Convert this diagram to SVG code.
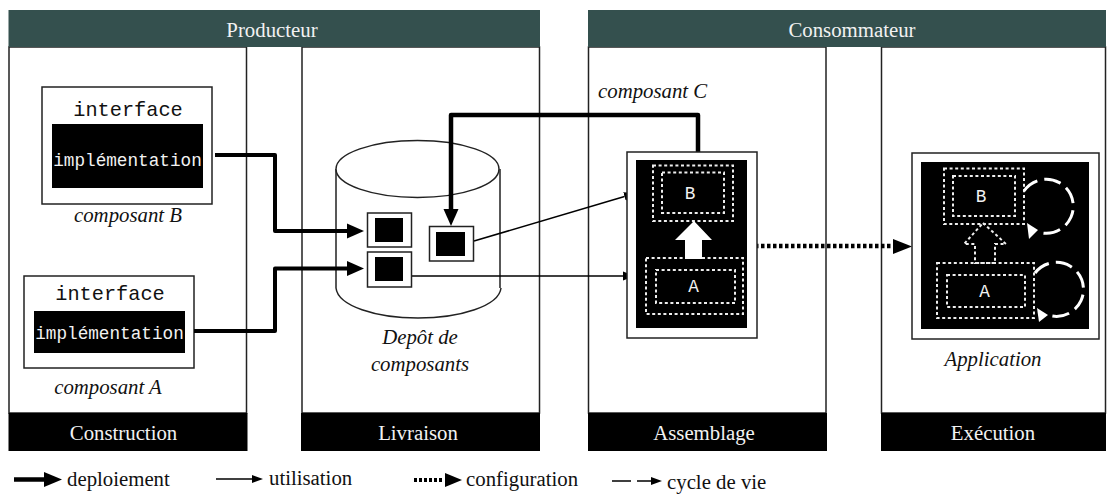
<svg xmlns="http://www.w3.org/2000/svg" width="1115" height="494" viewBox="0 0 1115 494">
<style>
text{font-family:"Liberation Serif","Times New Roman",serif;font-size:20.8px;fill:#111}
.w{fill:#f2f2f2}
.m{font-family:"Liberation Mono","Courier New",monospace}
.mi{font-size:20.300px}
.ms{font-size:17.700px}
.i{font-style:italic}
.c{text-anchor:middle}
.col{fill:#fff;stroke:#222;stroke-width:1.5}
.k{fill:#000}
.box{fill:#fff;stroke:#222;stroke-width:1.5}
.thick{fill:none;stroke:#000;stroke-width:4.5;stroke-linejoin:round}
.thin{fill:none;stroke:#000;stroke-width:1.5}
.dash{fill:none;stroke:#eee;stroke-width:2;stroke-dasharray:3 2.6}
.life{fill:none;stroke:#fff;stroke-width:3;stroke-dasharray:17 7}
</style>
<defs>
<marker id="hT" markerUnits="userSpaceOnUse" markerWidth="18" markerHeight="16" refX="0" refY="8" orient="auto"><path d="M0 0.500L17 8L0 15.500Z"/></marker>
<marker id="ht" markerUnits="userSpaceOnUse" markerWidth="12" markerHeight="10" refX="0" refY="5" orient="auto"><path d="M0 0.500L12 5L0 9.500Z"/></marker>
</defs>
<g id="columns">
<g id="col-construction"><rect class="col" x="9" y="47" width="237.500" height="366"/><rect class="k" x="8.500" y="413" width="239" height="38"/><text class="w c" x="123.500" y="440">Construction</text></g>
<g id="col-livraison"><rect class="col" x="302" y="47" width="237.500" height="366"/><rect class="k" x="301" y="413" width="239" height="38"/><text class="w c" x="418" y="440">Livraison</text></g>
<g id="col-assemblage"><rect class="col" x="588.500" y="47" width="237.500" height="366"/><rect class="k" x="588" y="413" width="239" height="38"/><text class="w c" x="704" y="440">Assemblage</text></g>
<g id="col-execution"><rect class="col" x="881.500" y="47" width="224" height="366"/><rect class="k" x="881" y="413" width="225" height="38"/><text class="w c" x="993" y="440">Exécution</text></g>
</g>
<g id="header-producteur"><rect fill="#34504e" x="8.500" y="10" width="531.500" height="37"/><text class="w c" x="272" y="37">Producteur</text></g>
<g id="header-consommateur"><rect fill="#34504e" x="588" y="10" width="518" height="37"/><text class="w c" x="852" y="37">Consommateur</text></g>
<g id="composant-b"><rect class="box" x="42" y="87" width="170" height="117"/><rect class="k" x="52" y="124" width="151" height="64"/><text class="m mi c" x="128" y="116">interface</text><text class="m ms w c" x="127.500" y="166">implémentation</text><text class="i c" x="128" y="222">composant B</text></g>
<g id="composant-a"><rect class="box" x="24" y="276" width="170" height="92"/><rect class="k" x="34" y="311" width="151" height="42"/><text class="m mi c" x="110" y="300">interface</text><text class="m ms w c" x="109.500" y="339">implémentation</text><text class="i c" x="108" y="394">composant A</text></g>
<g id="depot">
<path d="M336 169V288C338 306 376 318 418 318C460 318 499 306 501 288M500 169V288" fill="#fff" stroke="#222" stroke-width="1.500"/>
<ellipse cx="417.500" cy="169" rx="81.500" ry="28.500" fill="#fff" stroke="#222" stroke-width="1.500"/>
<text class="i c" x="420" y="344">Depôt de</text><text class="i c" x="420" y="371">composants</text>
</g>
<g id="connectors">
<path class="thick" style="stroke-width:4" d="M215 155H275V231H347" marker-end="url(#hT)"/>
<path class="thick" style="stroke-width:4" d="M194 331H275V268.500H347" marker-end="url(#hT)"/>
<path class="thick" d="M698 152V115H451V209" marker-end="url(#hT)"/>
<path class="thin" d="M474 241L624.500 196.500" marker-end="url(#ht)"/>
<path class="thin" d="M412 276H623" marker-end="url(#ht)"/>
<path d="M755 246H894" fill="none" stroke="#000" stroke-width="4.500" stroke-dasharray="3.500 2.500"/>
<path d="M893 239L912 246.500L893 254Z"/>
</g>
<g id="depot-c1"><rect class="box" x="367.500" y="213" width="44" height="34"/><rect class="k" x="375" y="218" width="28" height="24"/></g>
<g id="depot-c2"><rect class="box" x="367.500" y="252" width="44" height="35"/><rect class="k" x="375" y="257" width="28" height="24"/></g>
<g id="depot-c3"><rect class="box" x="429.500" y="226.500" width="44" height="34.500"/><rect class="k" x="436" y="232" width="29" height="24"/></g>
<g id="assemblage"><rect class="box" x="627" y="152" width="130" height="186"/><rect class="k" x="636" y="160" width="111" height="168"/>
<rect class="dash" x="653" y="165.500" width="80" height="55.500"/><rect class="dash" x="662" y="172.500" width="62" height="40.500"/><text class="m ms w c" x="690" y="199">B</text>
<rect class="dash" x="646" y="258" width="97" height="56"/><rect class="dash" x="656" y="270" width="79" height="33"/><text class="m ms w c" x="693.500" y="292">A</text>
<path fill="#fff" d="M694 221L712 240H702V259H685V240H675Z"/></g>
<g id="application"><rect class="box" x="912" y="153" width="187" height="186"/><rect class="k" x="921" y="162" width="168" height="167"/>
<rect class="dash" x="944" y="168.500" width="80" height="55.500"/><rect class="dash" x="953" y="176" width="62" height="40"/><text class="m ms w c" x="981" y="202">B</text>
<rect class="dash" x="937" y="263" width="97" height="55"/><rect class="dash" x="947" y="275" width="78" height="32"/><text class="m ms w c" x="984.500" y="297">A</text>
<path class="dash" d="M983 223L1006 244H995V263H975V244H964Z"/>
<path class="life" d="M1024 191A27 27 0 1 1 1038 232"/><path fill="#fff" d="M1027 223L1038 230L1029 239Z"/>
<path class="life" d="M1035 273A27 27 0 1 1 1048 315"/><path fill="#fff" d="M1037 308L1048 315L1039 322Z"/>
<text class="i c" x="993" y="366">Application</text></g>
<g id="composant-c"><text class="i" x="598" y="98">composant C</text></g>
<g id="legend">
<path d="M14 479.500H46" stroke="#000" stroke-width="4.500"/><path d="M44 472L62 479.500L44 487Z"/><text x="67" y="486">deploiement</text>
<path d="M216 479H254" stroke="#000" stroke-width="1.500"/><path d="M252 475L263 479L252 483Z"/><text x="269" y="485">utilisation</text>
<path d="M414 480H444" stroke="#000" stroke-width="4" stroke-dasharray="3 2"/><path d="M445 473L462 480L445 487Z"/><text x="466" y="486">configuration</text>
<path d="M612 481H631M637 481H652" stroke="#000" stroke-width="1.500"/><path d="M651 477L662 481L651 485Z"/><text x="667" y="489">cycle de vie</text>
</g>
</svg>
